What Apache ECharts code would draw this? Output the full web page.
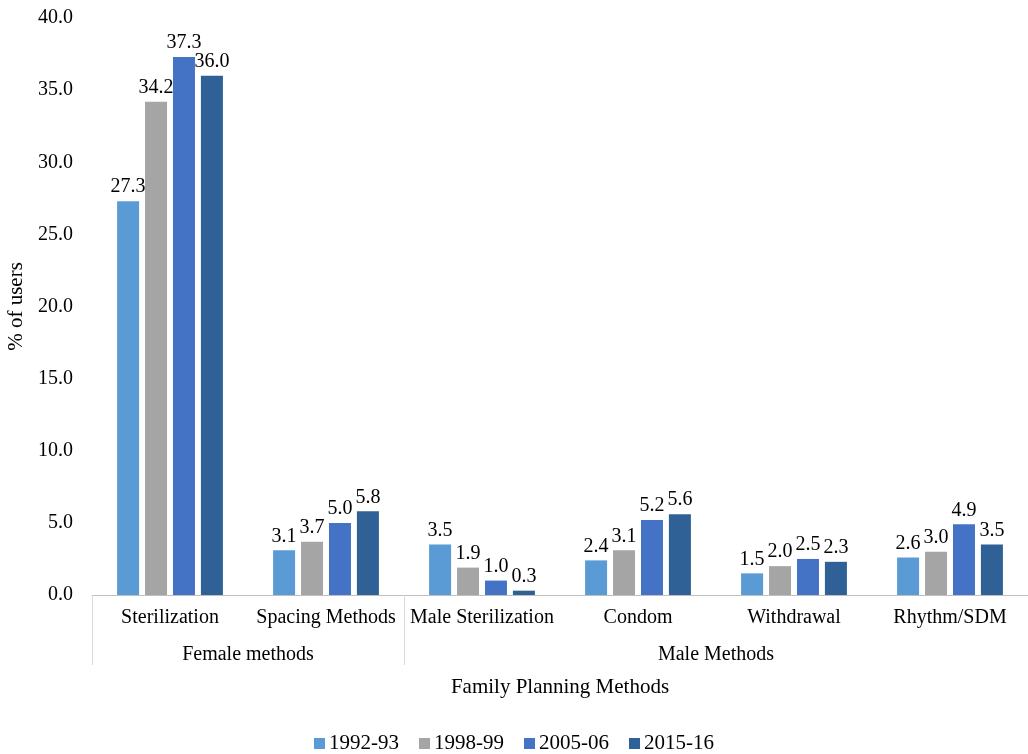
<!DOCTYPE html>
<html>
<head>
<meta charset="utf-8">
<script src="https://cdn.jsdelivr.net/npm/echarts@6/dist/echarts.min.js"></script>
<style>html,body{margin:0;padding:0;background:#fff}#c{width:1028px;height:754px}</style>
</head>
<body>
<div id="c"></div>
<script>
var categories = ['Sterilization', 'Spacing Methods', 'Male Sterilization', 'Condom', 'Withdrawal', 'Rhythm/SDM'];
var groupNames = ['Female methods', 'Male Methods'];
var groupCenters = [1, 4];
var groupBounds = [0, 2, 6];
var seriesNames = ['1992-93', '1998-99', '2005-06', '2015-16'];
var s1992 = [27.3, 3.1, 3.5, 2.4, 1.5, 2.6];
var s1998 = [34.2, 3.7, 1.9, 3.1, 2.0, 3.0];
var s2005 = [37.3, 5.0, 1.0, 5.2, 2.5, 4.9];
var s2015 = [36.0, 5.8, 0.3, 5.6, 2.3, 3.5];
var yTicks = [0, 5, 10, 15, 20, 25, 30, 35, 40];

var colors = ['#5B9BD5', '#A5A5A5', '#4472C4', '#2F6096'];
var FONT = 'Liberation Serif';
var FS = 20;
var chart = echarts.init(document.getElementById('c'));
var data = [s1992, s1998, s2005, s2015];
chart.setOption({
  animation: false,
  textStyle: { fontFamily: FONT },
  grid: { left: 92, right: 0, top: 18, bottom: 159, outerBoundsMode: 'none', containLabel: false },
  legend: {
    bottom: -5, left: 'center',
    itemWidth: 11, itemHeight: 11, itemGap: 20,
    icon: 'rect',
    textStyle: { fontFamily: FONT, fontSize: 21, color: '#000', padding: [0, 0, 0, -1] },
    data: seriesNames
  },
  xAxis: [{
    type: 'category',
    data: categories,
    axisLine: { lineStyle: { color: '#BFBFBF', width: 1 } },
    axisTick: { show: false },
    axisLabel: { fontFamily: FONT, fontSize: FS, color: '#000', margin: 13, interval: 0 },
    name: 'Family Planning Methods',
    nameLocation: 'middle',
    nameGap: 82,
    nameTextStyle: { fontFamily: FONT, fontSize: 21, color: '#000' }
  }, {
    type: 'value',
    min: 0, max: 6,
    position: 'bottom',
    axisLine: { show: false },
    splitLine: { show: false },
    axisTick: { show: true, customValues: groupBounds, length: 70, lineStyle: { color: '#D9D9D9' } },
    axisLabel: {
      customValues: groupCenters,
      fontFamily: FONT, fontSize: FS, color: '#000', margin: 50,
      formatter: function (v) { return groupNames[groupCenters.indexOf(v)]; }
    }
  }],
  yAxis: {
    type: 'value',
    min: yTicks[0], max: yTicks[yTicks.length - 1], interval: 5,
    axisLine: { show: false },
    axisTick: { show: false },
    splitLine: { show: false },
    axisLabel: { fontFamily: FONT, fontSize: FS, color: '#000', margin: 19, formatter: function (v) { return v.toFixed(1); } },
    name: '% of users',
    nameLocation: 'middle',
    nameGap: 64,
    nameRotate: 90,
    nameTextStyle: { fontFamily: FONT, fontSize: 21, color: '#000' }
  },
  series: seriesNames.map(function (n, i) {
    return {
      name: n,
      type: 'bar',
      xAxisIndex: 0,
      data: data[i],
      barWidth: 22,
      barGap: '27%',
      barCategoryGap: '32%',
      itemStyle: { color: colors[i] },
      label: {
        show: true, position: 'top', distance: 4,
        fontFamily: FONT, fontSize: FS, color: '#000',
        formatter: function (p) { return p.value.toFixed(1); }
      }
    };
  })
});
</script>
</body>
</html>
